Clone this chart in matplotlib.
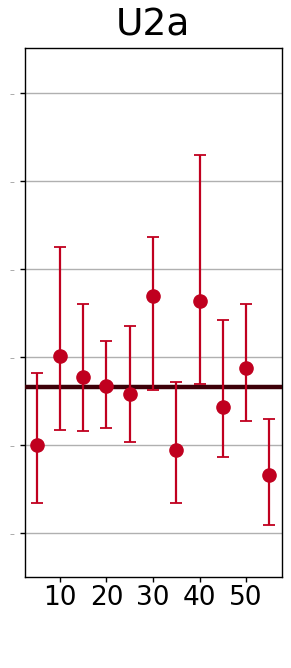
import matplotlib
matplotlib.use("Agg")
import matplotlib.pyplot as plt

# Data
x_vals = [5, 10, 15, 20, 25, 30, 35, 40, 45, 50, 55]
y_vals = [1.00, 2.01, 1.77, 1.67, 1.58, 2.69, 0.94, 2.63, 1.43, 1.87, 0.66]
err_hi = [1.82, 3.25, 2.60, 2.18, 2.35, 3.36, 1.72, 4.29, 2.42, 2.60, 1.30]
err_lo = [0.34, 1.17, 1.16, 1.19, 1.03, 1.63, 0.34, 1.69, 0.86, 1.27, 0.09]
ref_level = 1.66
y_ticks = [0, 1, 2, 3, 4, 5]
y_tick_labels = ["–"] * len(y_ticks)
x_ticks = [10, 20, 30, 40, 50]
title = "U2a"

red = "#c0001f"

fig = plt.figure(figsize=(2.91, 6.68), dpi=100)
ax = fig.add_axes([25/291, 1 - 577/668, (281.5 - 25)/291, (577 - 48)/668])

lower = [y - lo for y, lo in zip(y_vals, err_lo)]
upper = [hi - y for y, hi in zip(y_vals, err_hi)]

ax.set_axisbelow(True)
ax.yaxis.grid(True, color="#b0b0b0", linewidth=1.0)
ax.axhline(ref_level, color="#3d0008", linewidth=3.2, zorder=3)
ax.errorbar(x_vals, y_vals, yerr=[lower, upper], fmt="o", color=red,
            ecolor=red, elinewidth=1.6, capsize=4.5, capthick=1.3,
            markersize=9.5, zorder=4)

ax.set_xlim(2.5, 57.6)
ax.set_ylim(-0.5, 5.51)
ax.set_xticks(x_ticks)
ax.set_xticklabels([str(t) for t in x_ticks], fontsize=19)
ax.set_yticks(y_ticks)
ax.set_yticklabels(y_tick_labels, fontsize=7, color="#999999")
ax.tick_params(axis="both", direction="out", length=3.5, width=1, colors="black")
ax.tick_params(axis="y", labelcolor="#999999", pad=4)
ax.tick_params(axis="x", pad=2)
for s in ax.spines.values():
    s.set_linewidth(1.0)
    s.set_color("black")

fig.text(153/291, 1 - 25/668, title, fontsize=27, ha="center", va="center")

fig.savefig("out.png", dpi=100)
